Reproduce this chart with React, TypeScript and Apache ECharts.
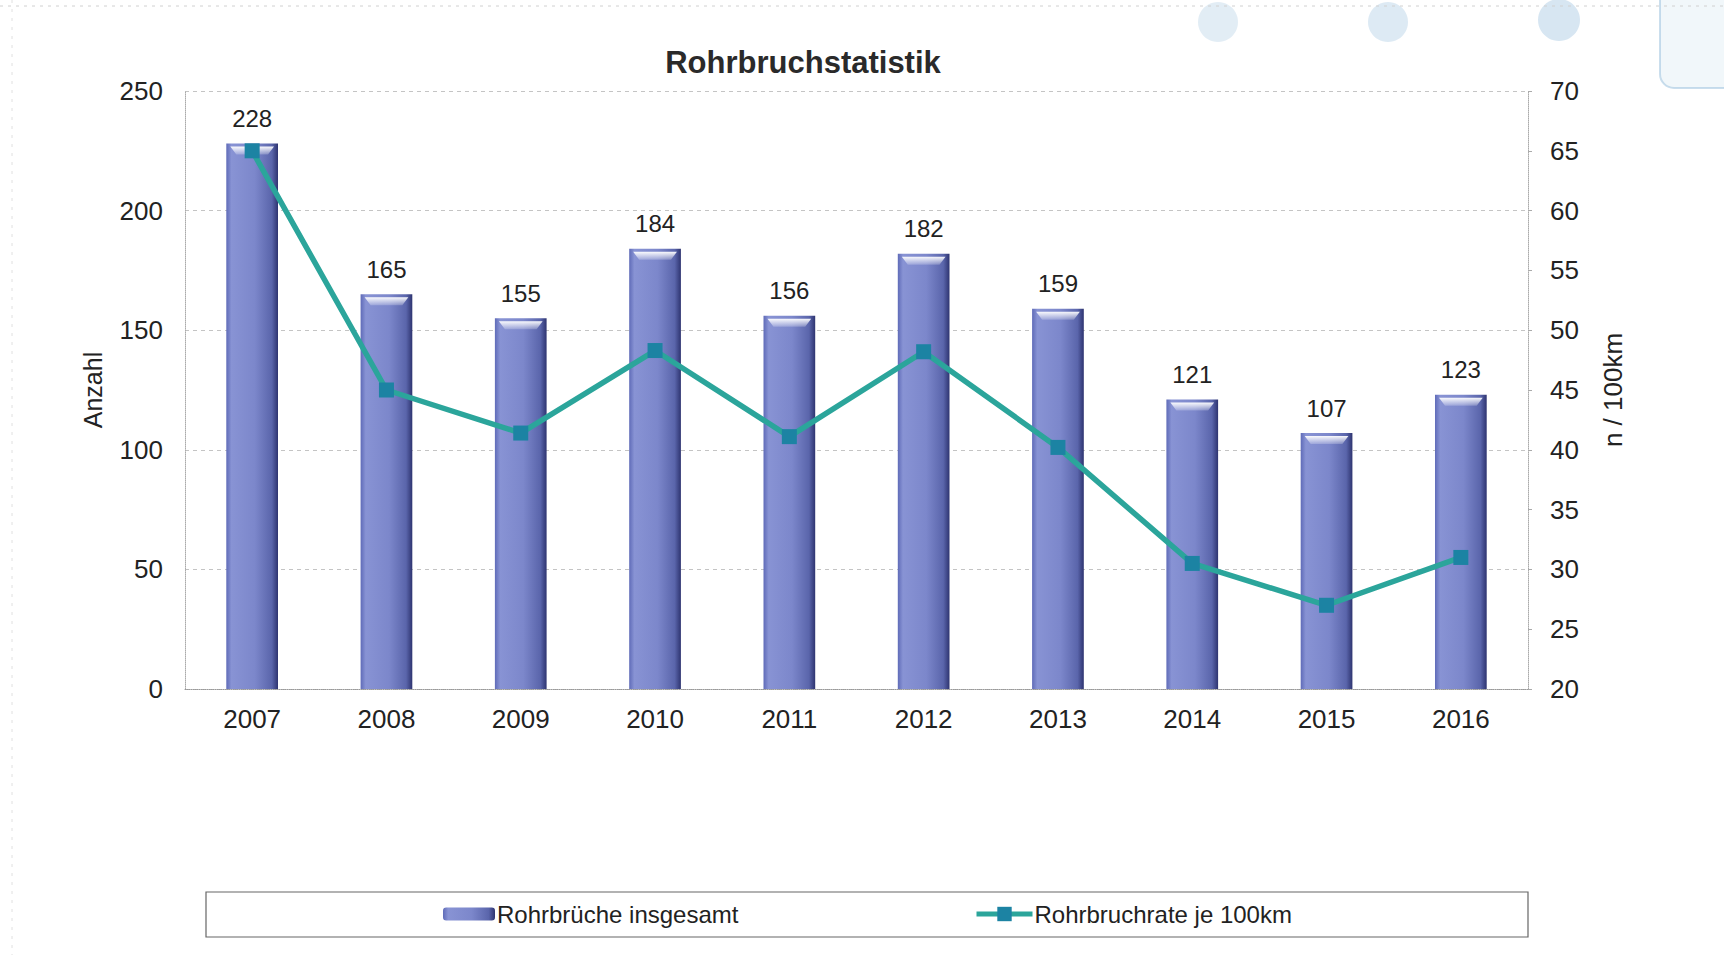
import React, { useEffect, useRef } from "react";
import * as echarts from "echarts";

const years = ["2007", "2008", "2009", "2010", "2011", "2012", "2013", "2014", "2015", "2016"];
const totalBreaks = [228, 165, 155, 184, 156, 182, 159, 121, 107, 123];
const ratePer100km = [65, 45, 41.4, 48.3, 41.1, 48.2, 40.2, 30.5, 27.0, 31.0];
const leftTicks = { min: 0, max: 250, interval: 50 };
const rightTicks = { min: 20, max: 70, interval: 5 };
const barName = "Rohrbrüche insgesamt";
const lineName = "Rohrbruchrate je 100km";

const FONT = "'Liberation Sans', Arial, sans-serif";

export default function App() {
  const ref = useRef<HTMLDivElement>(null);
  useEffect(() => {
    document.body.style.margin = "0";
    const chart = echarts.init(ref.current!, null, { renderer: "svg" });
    const barGradient = new echarts.graphic.LinearGradient(0, 0, 1, 0, [
      { offset: 0, color: "#5f6bb8" },
      { offset: 0.1, color: "#8893d4" },
      { offset: 0.55, color: "#7c87cb" },
      { offset: 0.88, color: "#5a65ab" },
      { offset: 1, color: "#2e3470" },
    ]);
    const legendText = { fontSize: 24, color: "#222", fontFamily: FONT, padding: [0, 0, 0, -3] };
    chart.setOption({
      animation: false,
      backgroundColor: "#ffffff",
      textStyle: { fontFamily: FONT },
      title: {
        text: "Rohrbruchstatistik",
        left: 798,
        top: 42,
        textAlign: "center",
        textStyle: { fontSize: 31, fontWeight: "bold", color: "#2a2a2a", fontFamily: FONT },
      },
      grid: { left: 185, right: 196, top: 91, bottom: 266 },
      legend: [
        {
          data: [barName],
          left: 438,
          top: 897,
          itemWidth: 52,
          itemHeight: 13,
          textStyle: legendText,
        },
        {
          data: [lineName],
          left: 969,
          top: 897,
          itemWidth: 56,
          itemHeight: 18,
          lineStyle: { width: 5 },
          textStyle: legendText,
        },
      ],
      xAxis: {
        type: "category",
        data: years,
        boundaryGap: true,
        axisLine: { lineStyle: { color: "#999", type: "dotted", width: 1 } },
        axisTick: { show: false },
        axisLabel: { fontSize: 26, color: "#222", margin: 17, fontFamily: FONT },
      },
      yAxis: [
        {
          type: "value",
          ...leftTicks,
          name: "Anzahl",
          nameLocation: "middle",
          nameGap: 80,
          nameRotate: 90,
          nameTextStyle: { fontSize: 25, color: "#222", fontFamily: FONT },
          axisLine: { show: true, lineStyle: { color: "#aaa", type: "dotted" } },
          axisTick: { show: false },
          axisLabel: { fontSize: 26, color: "#222", margin: 22, fontFamily: FONT },
          splitLine: { show: true, lineStyle: { color: "#c4c4c4", type: [4, 4], width: 1 } },
        },
        {
          type: "value",
          ...rightTicks,
          name: "n / 100km",
          nameLocation: "middle",
          nameGap: 72,
          nameRotate: 90,
          nameTextStyle: { fontSize: 26, color: "#222", fontFamily: FONT },
          axisLine: { show: true, lineStyle: { color: "#aaa", type: "dotted" } },
          axisTick: { show: true, length: 4, inside: false, lineStyle: { color: "#aaa" } },
          axisLabel: { fontSize: 26, color: "#222", margin: 22, fontFamily: FONT },
          splitLine: { show: false },
        },
      ],
      series: [
        {
          name: barName,
          type: "bar",
          data: totalBreaks,
          yAxisIndex: 0,
          barWidth: "38.5%",
          itemStyle: { color: barGradient },
          label: {
            show: true,
            position: "top",
            distance: 13,
            fontSize: 24,
            color: "#222",
            fontFamily: FONT,
          },
          z: 2,
        },
        {
          name: "highlight",
          type: "custom",
          yAxisIndex: 0,
          data: totalBreaks.map((v, i) => [i, v]),
          z: 3,
          silent: true,
          renderItem: (params: any, api: any) => {
            const p = api.coord([api.value(0), api.value(1)]);
            const w = api.size([1, 0])[0] * 0.385;
            const x0 = p[0] - w / 2;
            const x1 = p[0] + w / 2;
            return {
              type: "polygon",
              shape: {
                points: [
                  [x0 + 4, p[1] + 3],
                  [x1 - 4, p[1] + 3],
                  [x1 - 10, p[1] + 11],
                  [x0 + 10, p[1] + 11],
                ],
              },
              style: {
                fill: new echarts.graphic.LinearGradient(0, 0, 0, 1, [
                  { offset: 0, color: "rgba(255,255,255,0.95)" },
                  { offset: 1, color: "rgba(255,255,255,0.2)" },
                ]),
              },
            };
          },
        },
        {
          name: lineName,
          type: "line",
          data: ratePer100km,
          yAxisIndex: 1,
          symbol: "rect",
          symbolSize: 15,
          lineStyle: { color: "#2ba59b", width: 5.5 },
          itemStyle: { color: "#1c83a3" },
          z: 5,
        },
      ],
      graphic: [
        {
          type: "rect",
          shape: { x: 206, y: 892, width: 1322, height: 45 },
          style: { fill: "none", stroke: "#666", lineWidth: 1.2 },
          silent: true,
        },
        { type: "circle", shape: { cx: 1218, cy: 22, r: 20 }, style: { fill: "rgba(150,190,220,0.28)" }, silent: true },
        { type: "circle", shape: { cx: 1388, cy: 22, r: 20 }, style: { fill: "rgba(150,190,220,0.32)" }, silent: true },
        { type: "circle", shape: { cx: 1559, cy: 20, r: 21 }, style: { fill: "rgba(150,190,220,0.38)" }, silent: true },
        {
          type: "rect",
          shape: { x: 1660, y: -20, width: 90, height: 108, r: 14 },
          style: { fill: "rgba(200,225,235,0.25)", stroke: "rgba(150,190,220,0.5)", lineWidth: 2 },
          silent: true,
        },
        {
          type: "line",
          shape: { x1: 0, y1: 6, x2: 1724, y2: 6 },
          style: { stroke: "#d0d0d0", lineWidth: 1, lineDash: [3, 5] },
          silent: true,
        },
        {
          type: "line",
          shape: { x1: 12, y1: 0, x2: 12, y2: 955 },
          style: { stroke: "#e0e0e0", lineWidth: 1, lineDash: [3, 6] },
          silent: true,
        },
      ],
    });
    return () => chart.dispose();
  }, []);
  return (
    <div
      ref={ref}
      style={{ position: "absolute", left: 0, top: 0, width: 1724, height: 955 }}
    />
  );
}
